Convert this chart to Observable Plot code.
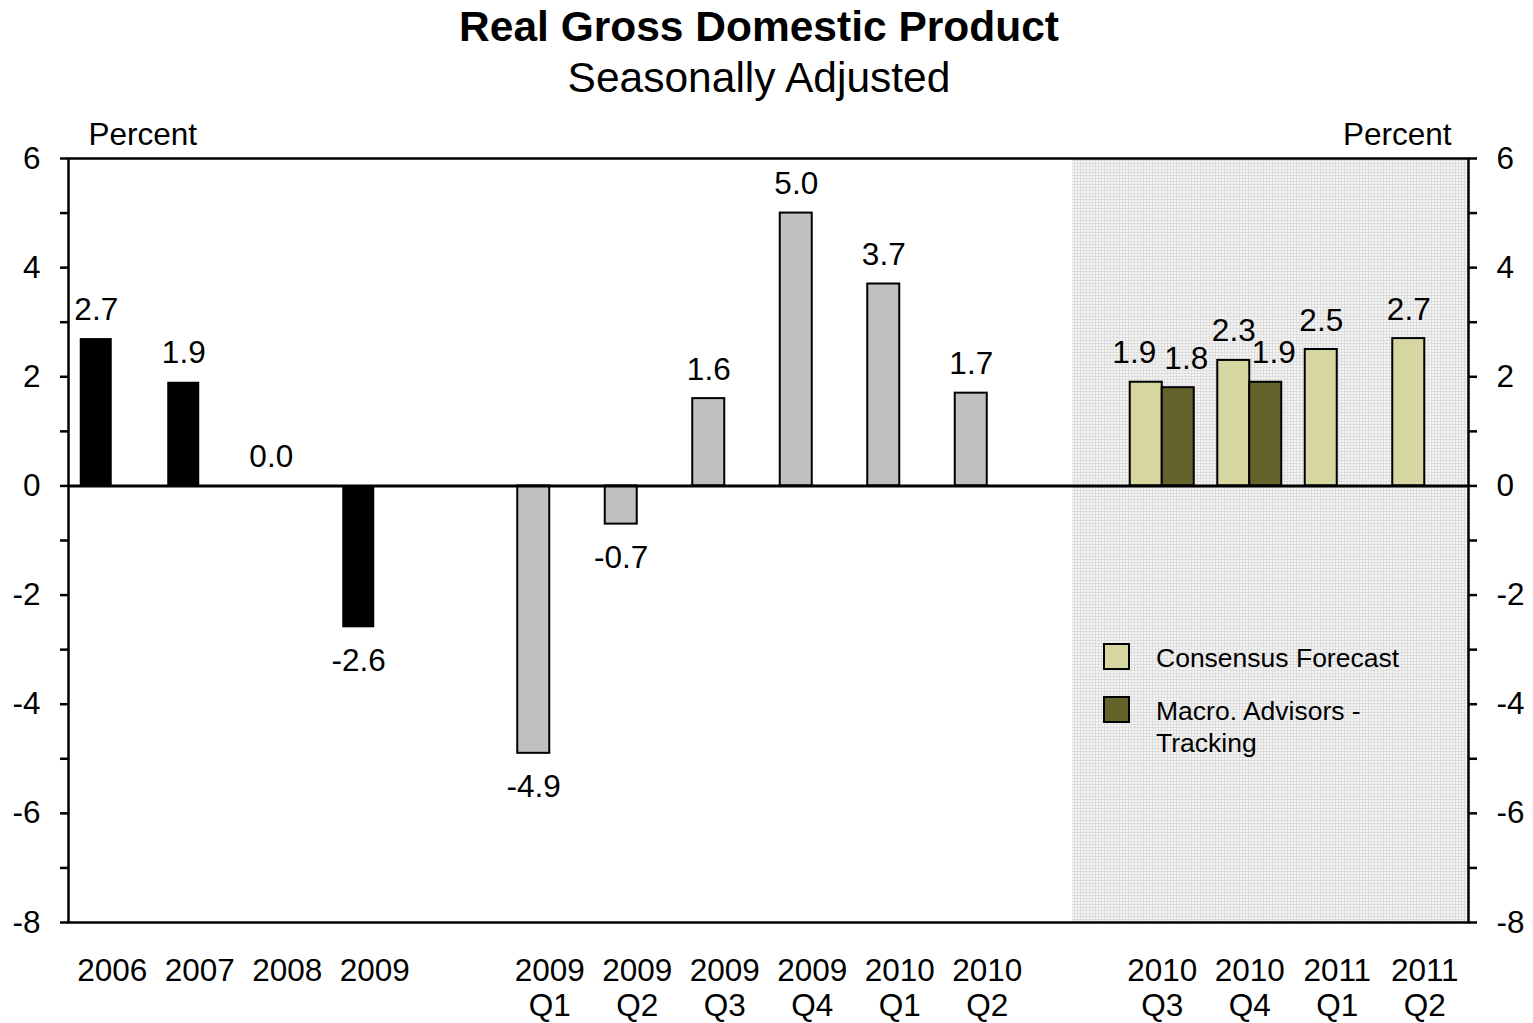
<!DOCTYPE html>
<html><head><meta charset="utf-8">
<script src="https://cdn.jsdelivr.net/npm/d3@7"></script>
<script src="https://cdn.jsdelivr.net/npm/@observablehq/plot@0.6"></script>
<style>
body{margin:0;background:#fff;font-family:"Liberation Sans",Arial,sans-serif;color:#000;}
#wrap{position:relative;width:1533px;height:1023px;overflow:hidden;}
#title{position:absolute;left:0;width:1518px;top:2px;text-align:center;font-size:42.5px;font-weight:bold;line-height:50px;}
#subtitle{position:absolute;left:0;width:1518px;top:53px;text-align:center;font-size:42.5px;line-height:50px;}
#chart{position:absolute;left:0;top:100px;}
.leg{position:absolute;font-size:26.5px;line-height:32px;}
.sw{position:absolute;width:23px;height:23px;border:2px solid #000;}
</style></head>
<body>
<div id="wrap">
<div id="title">Real Gross Domestic Product</div>
<div id="subtitle">Seasonally Adjusted</div>
<div id="chart"></div>
<div class="sw" style="left:1103px;top:643px;background:#d6d6a0"></div>
<div class="leg" style="left:1156px;top:642px;">Consensus Forecast</div>
<div class="sw" style="left:1103px;top:696px;background:#63632b"></div>
<div class="leg" style="left:1156px;top:695px;">Macro. Advisors -<br>Tracking</div>
</div>
<script>
const categories = ["2006","2007","2008","2009","gapA","2009 Q1","2009 Q2","2009 Q3","2009 Q4","2010 Q1","2010 Q2","gapB","2010 Q3","2010 Q4","2011 Q1","2011 Q2"];
const tickLabels = ["2006","2007","2008","2009","","2009\nQ1","2009\nQ2","2009\nQ3","2009\nQ4","2010\nQ1","2010\nQ2","","2010\nQ3","2010\nQ4","2011\nQ1","2011\nQ2"];
const annualCats = ["2006","2007","2008","2009"];
const annualValues = [2.7, 1.9, 0.0, -2.6];
const quarterCats = ["2009 Q1","2009 Q2","2009 Q3","2009 Q4","2010 Q1","2010 Q2"];
const quarterValues = [-4.9, -0.7, 1.6, 5.0, 3.7, 1.7];
const forecastCats = ["2010 Q3","2010 Q4","2011 Q1","2011 Q2"];
const consensusValues = [1.9, 2.3, 2.5, 2.7];
const macroCats = ["2010 Q3","2010 Q4"];
const macroValues = [1.8, 1.9];
const shadedCats = ["2010 Q3","2010 Q4","2011 Q1","2011 Q2"];
const yMajor = [-8,-6,-4,-2,0,2,4,6];
const yMinor = [-7,-5,-3,-1,1,3,5];

const labelOf = new Map(categories.map((c,i)=>[c,tickLabels[i]]));
const annual = annualCats.map((c,i)=>({cat:c, v:annualValues[i]}));
const quarterly = quarterCats.map((c,i)=>({cat:c, v:quarterValues[i]}));
const consensus = forecastCats.map((c,i)=>({cat:c, v:consensusValues[i]}));
const macro = macroCats.map((c,i)=>({cat:c, v:macroValues[i]}));
const fmt = d => d.v.toFixed(1);

const L = {insetLeft:11.75, insetRight:43.75};
const R = {insetLeft:43.75, insetRight:11.75};
const posLabel = {lineAnchor:"bottom", dy:-19};
const negLabel = {lineAnchor:"top", dy:21};
const lab = (data, dx) => [
  Plot.text(data.filter(d=>d.v>=0), {x:"cat", y:"v", text:fmt, dx, ...posLabel}),
  Plot.text(data.filter(d=>d.v<0), {x:"cat", y:"v", text:fmt, dx, ...negLabel})
];

const chart = Plot.plot({
  width:1533, height:923,
  marginLeft:68, marginRight:65, marginTop:58, marginBottom:101,
  style:{fontFamily:"'Liberation Sans', Arial, sans-serif", fontSize:"31.5px", color:"#000", background:"transparent", overflow:"visible"},
  x:{type:"band", domain:categories, padding:0, round:false, axis:null},
  y:{domain:[-8,6], axis:null},
  marks:[
    Plot.barY(["gapB"], {x:d=>d, y1:-8, y2:6, fill:"url(#dots)", insetLeft:41, shapeRendering:"crispEdges"}),
    Plot.barY(shadedCats, {x:d=>d, y1:-8, y2:6, fill:"url(#dots)", shapeRendering:"crispEdges"}),
    Plot.barY(annual, {x:"cat", y:"v", fill:"#000", ...L}),
    Plot.barY(quarterly, {x:"cat", y:"v", fill:"#c0c0c0", stroke:"#000", strokeWidth:2, ...L}),
    Plot.barY(consensus, {x:"cat", y:"v", fill:"#d6d6a0", stroke:"#000", strokeWidth:2, ...L}),
    Plot.barY(macro, {x:"cat", y:"v", fill:"#63632b", stroke:"#000", strokeWidth:2, ...R}),
    Plot.ruleY([0], {stroke:"#000", strokeWidth:3}),
    Plot.frame({stroke:"#000", strokeWidth:2.5}),
    ...lab(annual, -16),
    ...lab(quarterly, -16),
    ...lab(consensus.filter(d=>d.cat!=="2010 Q3"), -16),
    ...lab(consensus.filter(d=>d.cat==="2010 Q3"), -28),
    ...lab(macro, 24),
    Plot.axisX({label:null, tickSize:0, tickPadding:34, lineHeight:1.1, tickFormat:d=>labelOf.get(d)}),
    Plot.axisY({anchor:"left", label:null, ticks:yMajor, tickSize:8, tickPadding:20, strokeWidth:2.5, tickFormat:d=>String(d)}),
    Plot.axisY({anchor:"left", label:null, ticks:yMinor, tickSize:8, strokeWidth:2.5, tickFormat:()=>""}),
    Plot.axisY({anchor:"right", label:null, ticks:yMajor, tickSize:8, tickPadding:20, strokeWidth:2.5, tickFormat:d=>String(d)}),
    Plot.axisY({anchor:"right", label:null, ticks:yMinor, tickSize:8, strokeWidth:2.5, tickFormat:()=>""}),
    Plot.text(["Percent"], {text:d=>d, frameAnchor:"top-left", textAnchor:"start", lineAnchor:"middle", dx:20, dy:-24}),
    Plot.text(["Percent"], {text:d=>d, frameAnchor:"top-right", textAnchor:"end", lineAnchor:"middle", dx:-17, dy:-24})
  ]
});
const ns = "http://www.w3.org/2000/svg";
const defs = document.createElementNS(ns, "defs");
defs.innerHTML = '<pattern id="dots" width="3" height="3" patternUnits="userSpaceOnUse"><rect width="3" height="3" fill="#f5f5f5"/><rect width="3" height="1" fill="#dedede"/><rect width="1" height="3" fill="#dedede"/></pattern>';
chart.insertBefore(defs, chart.firstChild);
document.getElementById("chart").appendChild(chart);
</script>
</body></html>
